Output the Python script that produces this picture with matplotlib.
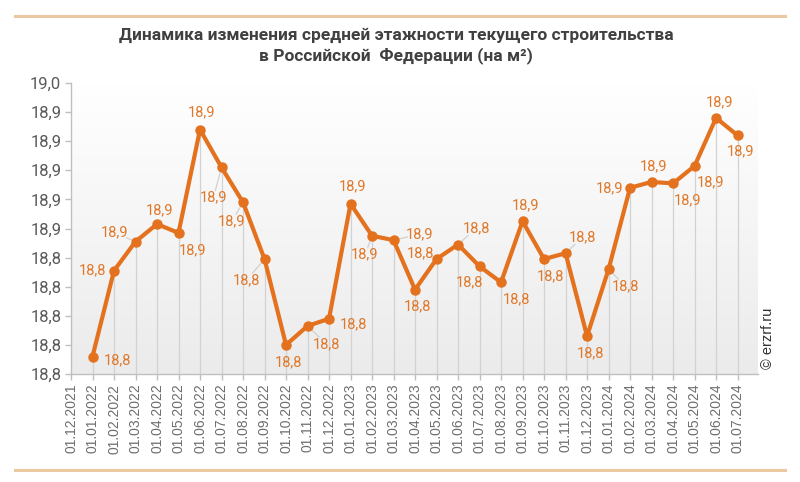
import numpy as np
import matplotlib
matplotlib.use("Agg")
import matplotlib.pyplot as plt
from matplotlib import font_manager as fm
from matplotlib.lines import Line2D

# ---------------- data ----------------
dates = ["01.12.2021", "01.01.2022", "01.02.2022", "01.03.2022", "01.04.2022", "01.05.2022",
         "01.06.2022", "01.07.2022", "01.08.2022", "01.09.2022", "01.10.2022", "01.11.2022",
         "01.12.2022", "01.01.2023", "01.02.2023", "01.03.2023", "01.04.2023", "01.05.2023",
         "01.06.2023", "01.07.2023", "01.08.2023", "01.09.2023", "01.10.2023", "01.11.2023",
         "01.12.2023", "01.01.2024", "01.02.2024", "01.03.2024", "01.04.2024", "01.05.2024",
         "01.06.2024", "01.07.2024"]
# value for 01.12.2021 is absent (no point in the chart)
values = [None, 18.772, 18.831, 18.851, 18.863, 18.857, 18.928, 18.902, 18.878, 18.839,
          18.780, 18.793, 18.798, 18.877, 18.855, 18.852, 18.818, 18.839, 18.849, 18.834,
          18.823, 18.865, 18.839, 18.843, 18.786, 18.832, 18.888, 18.892, 18.891, 18.903,
          18.936, 18.924]
y_ticks = [18.76, 18.78, 18.80, 18.82, 18.84, 18.86, 18.88, 18.90, 18.92, 18.94, 18.96]

title = "Динамика изменения средней этажности текущего строительства\nв Российской  Федерации (на м²)"
credit = "© erzrf.ru"

# label offsets (pixels, x right / y down) and leader-line flags
label_offsets = [None, (25, 4), (-22, 0), (-21, -9), (3, -14), (14, 17), (2, -17), (-8, 30),
                 (-11, 19), (-18, 21), (2, 17), (19, 18), (24, 6), (2, -17), (-7, 19), (26, -6),
                 (2, 17), (-16, -6), (18, -16), (-10, 16), (15, 17), (3, -16), (6, 17), (17, -16),
                 (3, 17), (17, 17), (-20, 1), (2, -16), (14, 17), (16, 16), (3, -16), (3, 16)]
leaders = [False, False, False, True, False, False, False, True, True, True, False, True,
           False, False, True, True, False, False, True, False, False, False, False, True,
           False, True, False, False, False, False, False, False]

# ---------------- fonts ----------------
names = {f.name for f in fm.fontManager.ttflist}
narrow = "Liberation Sans Narrow" if "Liberation Sans Narrow" in names else "Roboto"
regular = "Liberation Sans" if "Liberation Sans" in names else "DejaVu Sans"

LINE = "#E4711E"
LABEL = "#E0782A"
GRAY = "#595959"

fig = plt.figure(figsize=(8, 4.82), dpi=100)
ax = fig.add_axes([71 / 800, 1 - 374 / 482, (758 - 71) / 800, (374 - 83) / 482])

# gradient background of plot area
grad = np.linspace(1, 0, 256).reshape(-1, 1)
cmap = matplotlib.colors.LinearSegmentedColormap.from_list("g", ["#EBEBEB", "#FFFFFF"])
ax.imshow(grad, extent=[0, 1, 0, 1], transform=ax.transAxes, cmap=cmap, aspect="auto",
          zorder=0, origin="upper")

x = np.arange(len(dates))
xs = [i for i, v in enumerate(values) if v is not None]
ys = [values[i] for i in xs]

ax.set_xlim(0, 31.95)
ax.set_ylim(y_ticks[0], y_ticks[-1])

# drop lines
ax.vlines(xs, y_ticks[0], ys, colors="#D2D2D2", linewidth=0.9, zorder=1)

ax.plot(xs, ys, color=LINE, linewidth=3.0, marker="o", markersize=6.5,
        markerfacecolor=LINE, markeredgecolor=LINE, zorder=3, solid_joinstyle="round")

pt = 72 / 100
for i in xs:
    v = values[i]
    dx, dy = label_offsets[i]
    ax.annotate(f"{v:.1f}".replace(".", ","), (i, v), xytext=(dx * pt, -dy * pt),
                textcoords="offset points", ha="center", va="center",
                color=LABEL, fontsize=10.5, family=narrow, zorder=4)
    if leaders[i]:
        s = max(abs(dx) / 12, abs(dy) / 7)
        if s > 1:
            f = 1 - 1 / s
            ax.annotate("", (i, v), xytext=(dx * f * pt, -dy * f * pt), textcoords="offset points",
                        arrowprops=dict(arrowstyle="-", color="#D0D0D0", lw=0.9,
                                        shrinkA=0, shrinkB=3), zorder=2)

ax.set_yticks(y_ticks)
ax.set_yticklabels([f"{t:.1f}".replace(".", ",") for t in y_ticks], family=narrow,
                   fontsize=12, color=GRAY)
ax.set_xticks(x)
ax.set_xticklabels(dates, rotation=90, family=regular, fontsize=10, color="#6E6E6E")

for s in ["top", "right"]:
    ax.spines[s].set_visible(False)
for s in ["left", "bottom"]:
    ax.spines[s].set_color("#BFBFBF")
    ax.spines[s].set_linewidth(1.0)
ax.tick_params(axis="both", color="#BFBFBF", length=4, width=1.0, direction="out")
ax.tick_params(axis="y", pad=3)
ax.tick_params(axis="x", pad=3)

fig.text(0.495, 0.905, title, ha="center", va="center", fontsize=12.5, fontweight="bold",
         family=narrow, color="#404040", linespacing=1.35)

fig.text(768 / 800, 1 - 338 / 482, credit, rotation=90, ha="center", va="center",
         fontsize=10.5, family=regular, color="#333333")

# decorative separator lines
fig.add_artist(Line2D([15 / 800, 785 / 800], [1 - 16 / 482, 1 - 16 / 482],
                      color="#EBC8A2", linewidth=2.2, transform=fig.transFigure))
fig.add_artist(Line2D([15 / 800, 785 / 800], [1 - 470 / 482, 1 - 470 / 482],
                      color="#EBC8A2", linewidth=2.2, transform=fig.transFigure))

fig.savefig("out.png", dpi=100, facecolor="white")
